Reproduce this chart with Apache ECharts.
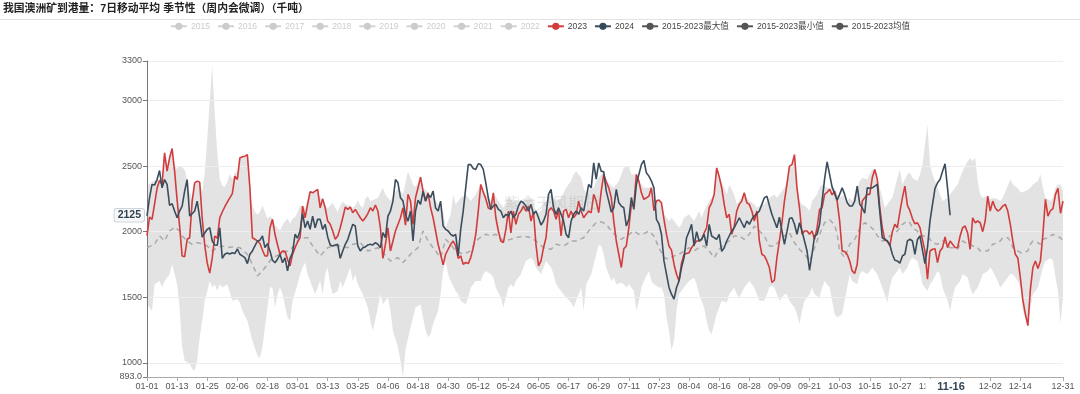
<!DOCTYPE html>
<html><head><meta charset="utf-8">
<script src="https://cdn.jsdelivr.net/npm/echarts@6/dist/echarts.min.js"></script>
<style>html,body{margin:0;padding:0;background:#fff}#c{width:1080px;height:394px}</style>
</head><body><div id="c"></div>
<script>
// ---- categories (leap-year calendar MM-DD) ----
const monthDays = [31,29,31,30,31,30,31,31,30,31,30,31];
const categories = [];
monthDays.forEach((n, m) => { for (let d = 1; d <= n; d++) categories.push(String(m+1).padStart(2,'0') + '-' + String(d).padStart(2,'0')); });

const hiddenYears = ['2015','2016','2017','2018','2019','2020','2021','2022'];
const titleText = '我国澳洲矿到港量：7日移动平均 季节性（周内会微调）（千吨）';
const pointerDate = '11-16';

// ---- series values: [day index, value] ----
const s2023 = [[0,1970],[1,2110],[2,2094],[3,2208],[4,2330],[5,2390],[6,2360],[7,2600],[8,2461],[9,2562],[10,2633],[11,2461],[12,2240],[13,2040],[14,1815],[15,1810],[16,1942],[17,1954],[18,2233],[19,2372],[20,2385],[21,2377],[22,2100],[23,1900],[24,1760],[25,1684],[26,1800],[27,1967],[28,1950],[29,2106],[30,2150],[31,2190],[32,2225],[33,2258],[34,2290],[35,2423],[36,2398],[37,2562],[38,2570],[39,2575],[40,2587],[41,2334],[42,1954],[43,1942],[44,1930],[45,1910],[46,1860],[47,1815],[48,1815],[49,2030],[50,2094],[51,1980],[52,1900],[53,1828],[54,1853],[55,1850],[56,1790],[57,1739],[58,1828],[59,1878],[60,1920],[61,1954],[62,2195],[63,2106],[64,2208],[65,2305],[66,2296],[67,2309],[68,2322],[69,2182],[70,2250],[71,2182],[72,2081],[73,2056],[74,2005],[75,1942],[76,1967],[77,2030],[78,2106],[79,2187],[80,2170],[81,2187],[82,2144],[83,2170],[84,2137],[85,2106],[86,2081],[87,2106],[88,2137],[89,2182],[90,2157],[91,2203],[92,2157],[93,2030],[94,1797],[95,1904],[96,2030],[97,1853],[98,1929],[99,2005],[101,2106],[102,2182],[103,2050],[104,2284],[105,2233],[106,2056],[107,2258],[108,2334],[109,2415],[110,2309],[111,2233],[112,2296],[113,2182],[114,2106],[115,2005],[116,1904],[117,1828],[118,1747],[119,1828],[120,1866],[121,1904],[122,1929],[123,1891],[124,1797],[125,1815],[126,1752],[127,1765],[128,1757],[129,1802],[130,1878],[131,1980],[132,2157],[133,2360],[134,2300],[135,2250],[136,2180],[137,2170],[138,2296],[139,2106],[140,2005],[141,1929],[142,1916],[143,2018],[144,2157],[145,1990],[146,2157],[147,2056],[148,2132],[149,2157],[150,2195],[151,2157],[152,2195],[153,2081],[154,2150],[155,1900],[156,1739],[157,1777],[158,1878],[159,1954],[160,2157],[161,2182],[162,2157],[163,2094],[164,2162],[165,1967],[166,2157],[167,2170],[168,2106],[169,2157],[170,2106],[171,2132],[172,2233],[173,2157],[174,2106],[175,2132],[176,2157],[177,2144],[178,2284],[179,2233],[180,2144],[181,2309],[182,2436],[183,2380],[184,2334],[185,2258],[186,2080],[187,1929],[188,1828],[189,1727],[190,1870],[191,1891],[192,2030],[193,2208],[194,2200],[195,2436],[196,2385],[197,2296],[198,2246],[199,2258],[200,2271],[201,2334],[202,2160],[203,2233],[204,2241],[205,2220],[206,2094],[207,1980],[208,1891],[209,1860],[210,1752],[211,1676],[212,1625],[213,1760],[214,1828],[215,1833],[216,1840],[217,1878],[218,1904],[219,1929],[220,1929],[221,1942],[222,1990],[223,2030],[224,2182],[225,2220],[226,2284],[227,2486],[228,2420],[229,2334],[230,2208],[231,2106],[232,2132],[233,1980],[234,2040],[235,2157],[236,2208],[237,2233],[238,2296],[239,2220],[240,2208],[241,2157],[242,2081],[243,2157],[244,1929],[245,1828],[246,1815],[247,1777],[248,1727],[249,1613],[250,1630],[251,1802],[252,1929],[253,2068],[254,2233],[255,2360],[256,2499],[257,2511],[258,2587],[259,2334],[260,2182],[261,1980],[262,2005],[263,2005],[264,1980],[265,2005],[266,1942],[267,2030],[268,2170],[269,2182],[270,2284],[271,2300],[272,2322],[273,2280],[274,2309],[275,2233],[276,2081],[277,1853],[278,1848],[279,1828],[280,1777],[281,1701],[282,1681],[283,1752],[284,2000],[285,2233],[286,2258],[287,2284],[288,2284],[289,2410],[290,2473],[291,2400],[292,2182],[293,2030],[294,1935],[295,1929],[296,1891],[297,2000],[298,2056],[299,2030],[300,2150],[301,2258],[302,2347],[303,2200],[304,2160],[305,2100],[306,2060],[307,2068],[308,2030],[309,1940],[310,1850],[311,1638],[312,1853],[313,1866],[314,1870],[315,1765],[316,1853],[317,1878],[318,1960],[319,1878],[320,1929],[321,1904],[322,1880],[323,1878],[324,1967],[325,2030],[326,2043],[327,1990],[328,1866],[329,2106],[330,2068],[331,2081],[332,2068],[333,2000],[334,2081],[335,2271],[336,2157],[337,2233],[338,2182],[339,2157],[340,2170],[341,2195],[342,2208],[343,2157],[344,2056],[345,1929],[346,1828],[347,1800],[348,1650],[349,1480],[350,1372],[351,1284],[352,1560],[353,1727],[354,1777],[355,1720],[356,1777],[357,1980],[358,2246],[359,2119],[360,2160],[361,2175],[362,2284],[363,2330],[364,2140],[365,2233]];

const s2024 = [[0,2120],[1,2258],[2,2360],[3,2355],[4,2397],[5,2466],[6,2334],[7,2397],[8,2360],[9,2200],[10,2213],[11,2157],[12,2106],[13,2157],[14,2195],[15,2309],[16,2397],[17,2119],[18,2137],[19,2157],[20,2233],[21,2106],[22,1959],[23,1990],[24,2018],[25,2030],[26,1929],[27,1899],[28,1896],[29,2030],[30,1797],[31,1828],[32,1838],[33,1830],[34,1840],[35,1833],[36,1868],[37,1828],[38,1815],[39,1802],[40,1757],[41,1828],[42,1853],[43,1891],[44,1929],[45,1935],[46,1967],[47,1878],[48,1909],[49,1853],[50,1782],[51,1764],[52,1790],[53,1828],[54,1764],[55,1800],[56,1701],[57,1797],[58,1840],[59,1980],[60,1950],[61,2005],[62,2137],[63,2030],[64,2081],[65,2018],[66,2119],[67,2030],[68,2094],[69,2094],[70,2018],[71,2056],[72,1960],[73,1899],[74,1891],[75,1899],[76,1904],[77,1797],[78,1853],[79,1904],[80,1940],[81,2000],[82,2056],[83,2043],[84,1891],[85,1853],[86,1878],[87,1884],[88,1899],[89,1904],[90,1899],[91,1916],[92,1904],[93,1878],[94,1992],[95,1954],[96,2119],[97,2157],[98,2233],[99,2397],[100,2372],[101,2258],[102,2233],[103,2132],[104,2080],[105,2157],[106,1929],[107,2157],[108,2240],[109,2208],[110,2309],[111,2233],[112,2284],[113,2260],[114,2309],[115,2180],[116,2157],[117,2233],[118,2043],[119,2018],[120,2005],[121,1980],[122,1967],[123,1980],[124,1815],[125,2018],[126,2157],[127,2334],[128,2511],[129,2511],[130,2481],[131,2474],[132,2517],[133,2511],[134,2474],[135,2372],[136,2258],[137,2170],[138,2195],[139,2208],[140,2170],[141,2157],[142,2106],[143,2132],[144,2119],[145,2157],[146,2106],[147,2132],[148,2195],[149,2233],[150,2220],[151,2195],[152,2157],[153,2208],[154,2132],[155,2157],[156,2106],[157,2050],[158,2081],[159,2132],[160,2284],[161,2322],[162,2182],[163,2132],[164,2182],[165,2132],[166,2081],[167,1980],[168,1954],[169,2081],[170,2132],[171,2157],[172,2132],[173,2182],[174,2157],[175,2258],[176,2360],[177,2334],[178,2524],[179,2400],[180,2524],[181,2461],[182,2456],[183,2309],[184,2233],[185,2150],[186,2182],[187,2322],[188,2220],[189,2195],[190,2182],[191,2043],[192,2094],[193,2260],[194,2170],[195,2360],[196,2436],[197,2511],[198,2542],[199,2448],[200,2423],[201,2385],[202,2334],[203,2094],[204,2060],[205,1980],[206,1777],[207,1676],[208,1575],[209,1524],[210,1486],[211,1575],[212,1625],[213,1727],[214,1802],[215,1954],[216,2000],[217,2056],[218,1891],[219,2000],[220,1929],[221,1942],[222,1980],[223,1891],[224,2056],[225,1967],[226,1954],[227,1942],[228,1980],[229,1850],[230,1878],[231,1929],[232,1967],[233,2005],[234,2030],[235,2068],[236,2106],[237,2068],[238,2030],[239,2081],[240,2056],[241,2094],[242,2119],[243,2137],[244,2157],[245,2208],[246,2258],[247,2271],[248,2200],[249,2132],[250,2081],[251,2030],[252,2110],[253,2005],[254,1904],[255,2000],[256,2100],[257,2106],[258,2056],[259,1980],[260,2068],[261,2005],[262,1929],[263,1853],[264,1706],[265,1828],[266,1967],[267,1980],[268,2056],[269,2233],[270,2400],[271,2532],[272,2436],[273,2340],[274,2290],[275,2240],[276,2284],[277,2334],[278,2284],[279,2220],[280,2195],[281,2195],[282,2233],[283,2347],[284,2210],[285,2182],[286,2140],[287,2334],[288,2330],[289,2334],[290,2347],[291,2360],[292,2150],[293,1954],[294,1942],[295,1929],[296,1900],[297,1828],[298,1782],[299,1777],[300,1760],[301,1815],[302,1828],[303,1930],[304,1942],[305,1929],[306,1828],[307,1940],[308,1967],[309,1860],[310,1757],[311,1878],[312,2081],[313,2208],[314,2330],[315,2372],[316,2398],[317,2461],[318,2517],[319,2330],[320,2125]];

const sMax = [[0,2350],[2,2380],[4,2400],[5,2400],[6,2380],[7,2600],[8,2480],[9,2562],[10,2633],[11,2500],[12,2480],[13,2500],[14,2490],[15,2470],[16,2400],[17,2300],[18,2250],[19,2372],[20,2390],[21,2380],[22,2300],[23,2450],[24,2700],[25,3000],[26,3260],[27,2900],[28,2600],[29,2400],[30,2350],[31,2340],[32,2380],[33,2440],[34,2400],[35,2450],[36,2450],[37,2562],[38,2570],[39,2575],[40,2587],[41,2350],[42,2200],[43,2150],[44,2130],[45,2150],[46,2200],[47,2150],[48,2100],[49,2120],[50,2100],[51,2050],[52,2030],[53,2010],[54,2050],[55,2080],[56,2100],[57,2060],[58,2100],[59,2110],[60,2150],[61,2200],[62,2200],[63,2180],[64,2250],[65,2310],[66,2300],[67,2310],[68,2322],[69,2250],[70,2260],[71,2200],[72,2180],[73,2200],[74,2220],[75,2180],[76,2150],[77,2200],[78,2230],[79,2210],[80,2200],[81,2200],[82,2180],[83,2200],[84,2240],[85,2200],[86,2180],[87,2250],[88,2270],[89,2233],[92,2258],[94,2334],[95,2284],[97,2233],[100,2334],[102,2284],[104,2461],[106,2360],[107,2340],[109,2415],[110,2334],[112,2300],[114,2258],[116,2208],[118,2157],[119,2030],[121,2132],[122,2284],[123,2208],[125,2258],[127,2284],[129,2233],[131,2284],[133,2360],[134,2334],[135,2284],[137,2233],[138,2300],[140,2233],[142,2182],[144,2258],[146,2233],[148,2233],[150,2233],[152,2258],[154,2233],[155,2132],[157,2157],[158,2208],[159,2233],[161,2284],[163,2233],[165,2258],[167,2334],[169,2385],[170,2436],[171,2461],[173,2410],[174,2334],[175,2284],[177,2334],[178,2334],[179,2385],[181,2436],[182,2461],[183,2385],[186,2334],[188,2385],[190,2486],[192,2499],[193,2436],[195,2436],[196,2385],[198,2334],[200,2334],[201,2340],[202,2233],[203,2246],[205,2220],[206,2132],[208,2081],[209,2106],[210,2081],[212,2030],[213,2056],[214,2106],[216,2132],[217,2106],[218,2081],[220,2157],[221,2106],[222,2157],[224,2233],[225,2258],[226,2290],[227,2486],[228,2420],[230,2334],[231,2284],[232,2360],[234,2284],[235,2208],[236,2233],[238,2296],[239,2258],[240,2233],[242,2208],[243,2182],[244,2195],[246,2208],[247,2233],[248,2258],[250,2284],[251,2258],[252,2284],[254,2334],[255,2400],[256,2499],[257,2511],[258,2587],[259,2334],[260,2233],[261,2208],[263,2182],[264,2157],[265,2233],[267,2284],[268,2334],[269,2360],[271,2334],[272,2330],[273,2334],[274,2334],[275,2284],[276,2258],[278,2284],[279,2233],[280,2258],[281,2233],[283,2334],[284,2385],[285,2410],[287,2398],[288,2436],[289,2473],[290,2480],[291,2410],[293,2258],[294,2182],[295,2208],[297,2258],[298,2334],[299,2410],[300,2473],[301,2360],[302,2400],[303,2436],[304,2448],[305,2410],[307,2385],[308,2436],[309,2511],[310,2663],[311,2815],[312,2511],[313,2436],[314,2385],[315,2334],[316,2284],[317,2233],[319,2258],[320,2284],[321,2309],[323,2360],[324,2410],[325,2461],[327,2537],[328,2562],[329,2537],[330,2562],[331,2385],[332,2284],[333,2258],[335,2271],[336,2246],[337,2258],[339,2246],[340,2233],[341,2258],[343,2350],[344,2400],[345,2360],[347,2330],[348,2300],[349,2300],[351,2320],[352,2334],[353,2360],[355,2385],[356,2436],[357,2334],[358,2258],[360,2233],[361,2258],[362,2334],[363,2360],[364,2360],[365,2309]];

const sMin = [[0,1448],[1,1423],[2,1397],[3,1600],[5,1625],[6,1575],[7,1625],[9,1676],[10,1752],[11,1676],[12,1600],[13,1423],[14,1119],[15,1018],[17,993],[18,955],[19,942],[20,1018],[21,1195],[22,1321],[23,1473],[24,1549],[25,1625],[26,1575],[27,1600],[28,1549],[29,1600],[30,1575],[32,1600],[33,1537],[34,1473],[36,1486],[37,1461],[38,1397],[40,1321],[41,1245],[42,1170],[44,1056],[45,1038],[46,1119],[47,1271],[48,1423],[49,1575],[50,1575],[51,1423],[52,1524],[53,1575],[54,1524],[56,1347],[57,1321],[58,1473],[60,1600],[61,1676],[62,1727],[63,1765],[64,1676],[66,1575],[67,1524],[68,1575],[69,1625],[70,1524],[71,1676],[72,1727],[73,1600],[74,1524],[76,1549],[77,1625],[78,1575],[80,1676],[81,1727],[82,1625],[83,1676],[84,1600],[86,1524],[87,1473],[88,1423],[89,1321],[90,1245],[92,1423],[93,1524],[94,1448],[96,1499],[97,1397],[98,1245],[100,1119],[101,1018],[102,893],[103,1100],[105,1271],[106,1347],[107,1423],[109,1448],[110,1347],[111,1245],[112,1195],[113,1220],[114,1296],[116,1397],[117,1524],[118,1700],[119,1777],[120,1676],[121,1625],[123,1549],[124,1524],[125,1473],[127,1448],[128,1499],[129,1575],[130,1600],[131,1625],[133,1625],[134,1676],[135,1701],[137,1676],[138,1651],[139,1575],[141,1499],[142,1423],[143,1499],[144,1575],[145,1600],[146,1575],[147,1625],[149,1676],[150,1727],[151,1777],[153,1802],[154,1777],[155,1727],[157,1676],[158,1727],[159,1777],[161,1727],[162,1676],[163,1600],[165,1549],[166,1524],[167,1499],[169,1461],[170,1423],[171,1473],[173,1575],[174,1397],[175,1600],[177,1676],[178,1752],[179,1828],[180,1900],[181,1890],[182,1828],[183,1727],[185,1625],[186,1651],[187,1600],[189,1613],[190,1600],[191,1575],[192,1600],[194,1549],[195,1397],[196,1473],[197,1575],[198,1625],[200,1701],[201,1625],[202,1600],[204,1575],[205,1575],[206,1524],[207,1347],[208,1245],[209,1094],[210,1170],[211,1400],[212,1524],[214,1575],[215,1600],[216,1625],[218,1651],[219,1600],[220,1524],[222,1423],[223,1321],[224,1245],[225,1220],[226,1296],[227,1372],[228,1423],[229,1473],[231,1461],[232,1524],[234,1575],[235,1524],[236,1499],[238,1575],[239,1600],[240,1625],[242,1575],[243,1524],[244,1473],[246,1473],[247,1524],[248,1575],[249,1590],[250,1575],[251,1524],[252,1473],[254,1524],[255,1524],[256,1473],[258,1423],[259,1372],[260,1296],[261,1397],[262,1473],[264,1524],[265,1575],[266,1524],[268,1499],[269,1575],[270,1625],[272,1575],[273,1473],[274,1372],[275,1347],[276,1360],[277,1372],[279,1575],[280,1676],[281,1625],[283,1600],[284,1676],[285,1701],[287,1676],[288,1701],[289,1727],[291,1676],[292,1625],[293,1575],[295,1461],[296,1575],[297,1651],[299,1701],[300,1727],[301,1676],[303,1727],[304,1777],[305,1802],[307,1777],[308,1701],[309,1600],[311,1549],[312,1600],[313,1625],[315,1701],[316,1676],[317,1575],[319,1473],[320,1397],[321,1499],[322,1575],[323,1600],[324,1625],[325,1676],[327,1651],[328,1575],[329,1524],[331,1575],[332,1625],[333,1676],[335,1701],[336,1727],[337,1701],[339,1625],[340,1575],[341,1600],[343,1651],[344,1676],[345,1676],[347,1625],[348,1575],[349,1400],[350,1340],[351,1284],[352,1423],[353,1524],[355,1575],[356,1650],[357,1727],[358,1777],[360,1800],[361,1780],[362,1650],[363,1550],[364,1300],[365,1500]];

const sMean = [[0,1878],[3,1904],[5,1967],[7,1929],[9,2005],[11,2035],[13,2005],[14,1967],[16,1929],[18,1904],[20,1916],[22,1909],[24,1891],[26,1853],[28,1878],[30,1891],[32,1878],[34,1884],[37,1878],[40,1828],[42,1752],[44,1663],[46,1701],[48,1752],[50,1802],[53,1828],[56,1853],[58,1878],[61,1954],[64,1954],[66,1891],[69,1815],[72,1878],[74,1891],[77,1891],[80,1878],[82,1904],[85,1916],[88,1853],[92,1878],[94,1840],[97,1777],[100,1802],[102,1765],[105,1828],[108,1878],[110,2005],[112,1929],[114,1878],[117,1802],[119,1942],[121,1904],[123,1853],[126,1828],[129,1853],[131,1929],[133,1959],[135,1980],[137,1967],[139,1980],[142,1929],[145,1942],[147,1954],[150,1967],[153,1954],[155,1929],[158,1878],[161,1866],[163,1904],[166,1891],[169,1929],[171,1929],[174,1954],[177,2030],[179,2068],[181,2075],[183,2056],[185,2005],[187,1967],[189,1942],[191,1967],[194,2005],[196,1980],[198,1985],[200,2005],[202,1967],[204,1878],[206,1802],[208,1790],[210,1815],[212,1828],[214,1853],[216,1878],[218,1853],[220,1878],[222,1891],[224,1853],[226,1802],[228,1866],[230,1904],[232,1929],[234,1967],[236,1967],[238,1942],[240,1980],[242,2043],[244,2005],[246,1967],[248,1891],[250,1891],[252,1929],[254,1967],[256,1992],[258,1916],[260,1866],[262,1828],[264,1777],[266,1878],[268,1980],[270,2068],[272,2090],[274,2050],[275,1980],[276,1853],[278,1802],[279,1853],[280,1904],[282,1942],[283,1980],[284,2030],[286,2068],[287,2056],[288,2043],[290,2005],[291,1967],[292,1954],[293,1929],[295,1942],[296,1967],[297,1980],[299,2005],[300,2030],[301,2056],[303,2081],[304,2068],[305,2030],[307,2005],[308,1967],[309,1967],[311,1967],[312,1942],[313,1916],[315,1904],[316,1916],[317,1929],[319,1904],[320,1878],[321,1878],[323,1866],[324,1904],[325,1929],[327,1904],[328,1904],[329,1891],[331,1878],[332,1853],[333,1853],[335,1853],[336,1878],[337,1904],[339,1916],[340,1929],[341,1954],[343,1954],[344,1929],[345,1878],[347,1853],[348,1840],[349,1840],[351,1853],[352,1904],[353,1929],[355,1916],[356,1904],[357,1942],[359,1954],[360,1967],[361,1980],[362,1967],[364,1954],[365,1929]];

// ---- chart ----
const FONT = '"Liberation Sans", "Noto Sans CJK SC", sans-serif';
const chart = echarts.init(document.getElementById('c'));
const lastIdx = categories.length - 1;
const tickShown = (i) => (i % 12 === 0 && i !== 360) || i === lastIdx;
const pointerIndex = categories.indexOf(pointerDate);
const pointerValue = s2024[s2024.length - 1][1];

const selected = {};
hiddenYears.forEach(y => selected[y] = false);
const bandIcon = { itemStyle: { color: '#555', opacity: 1 }, lineStyle: { color: '#555', opacity: 1, width: 2, type: 'solid' } };
const legendData = hiddenYears.map(n => ({ name: n }))
  .concat([{ name: '2023' }, { name: '2024' },
    Object.assign({ name: '2015-2023最大值' }, bandIcon),
    Object.assign({ name: '2015-2023最小值' }, bandIcon),
    Object.assign({ name: '2015-2023均值' }, bandIcon)]);

const series = hiddenYears.map(n => ({ name: n, type: 'line', data: [], symbol: 'circle', showSymbol: false, itemStyle: { color: '#999' } }));
series.push(
  { name: '2015-2023最大值', type: 'line', data: sMax, symbol: 'circle', showSymbol: false, z: 1, silent: true,
    itemStyle: { color: '#555' }, lineStyle: { width: 0, opacity: 0 }, areaStyle: { color: '#e3e3e3', opacity: 1, origin: 'start' } },
  { name: '2015-2023最小值', type: 'line', data: sMin, symbol: 'circle', showSymbol: false, z: 1, silent: true,
    itemStyle: { color: '#555' }, lineStyle: { width: 0, opacity: 0 }, areaStyle: { color: '#ffffff', opacity: 1, origin: 'start' } },
  { name: '2015-2023均值', type: 'line', data: sMean, symbol: 'circle', showSymbol: false, z: 3,
    itemStyle: { color: '#555' }, lineStyle: { color: '#aaaaaa', width: 1.5, type: [5, 4] } },
  { name: '2023', type: 'line', data: s2023, symbol: 'circle', showSymbol: false, z: 3,
    itemStyle: { color: '#d23c3c' }, lineStyle: { color: '#d23c3c', width: 1.6 } },
  { name: '2024', type: 'line', data: s2024, symbol: 'circle', showSymbol: false, z: 4,
    itemStyle: { color: '#34495a' }, lineStyle: { color: '#3b4d5c', width: 1.6 } }
);

chart.setOption({
  animation: false,
  textStyle: { fontFamily: FONT },
  title: { text: titleText, left: 3, top: 4, padding: 0, textStyle: { fontSize: 10.8, fontWeight: 'bold', color: '#222', fontFamily: FONT } },
  legend: { top: 22, left: 'center', padding: 0, itemWidth: 16, itemHeight: 9, itemGap: 7, inactiveColor: '#ccc',
    textStyle: { fontSize: 8.6, color: '#444', fontFamily: FONT, padding: [0, 0, 0, -1] }, selected: selected, data: legendData },
  grid: { left: 147, right: 17, top: 61, bottom: 17 },
  xAxis: {
    type: 'category', data: categories, boundaryGap: false, z: 2,
    axisLine: { lineStyle: { color: '#aaa' } },
    axisTick: { interval: (i) => tickShown(i), length: 4, lineStyle: { color: '#aaa' } },
    axisLabel: { interval: (i) => tickShown(i), fontSize: 9, color: '#555', margin: 5, fontFamily: FONT },
    splitLine: { show: false },
    axisPointer: { show: true, type: 'none', status: 'show', value: pointerIndex, triggerTooltip: false,
      label: { show: true, fontSize: 11, fontWeight: 'bold', color: '#2f4554', backgroundColor: '#fff', padding: [2, 10, 2, 12], margin: 2, fontFamily: FONT } }
  },
  yAxis: {
    type: 'value', min: 893, max: 3300, splitNumber: 5, z: 2,
    axisLine: { show: true, lineStyle: { color: '#777' } },
    axisTick: { show: true, length: 4, lineStyle: { color: '#777' } },
    axisLabel: { fontSize: 9, color: '#555', margin: 5, fontFamily: FONT, formatter: (v) => v === 893 ? '893.0' : String(v) },
    splitLine: { lineStyle: { color: '#eeeeee' } },
    axisPointer: { show: true, type: 'none', status: 'show', value: pointerValue, triggerTooltip: false,
      label: { show: true, fontSize: 10.5, fontWeight: 'bold', color: '#2f4554', backgroundColor: '#f7f8fa', borderColor: '#cfd4da', borderWidth: 1, borderRadius: 2, padding: [1, 3], margin: 3, fontFamily: FONT,
        formatter: (p) => String(Math.round(p.value)) } }
  },
  graphic: [
    { type: 'line', silent: true, shape: { x1: 0, y1: 19.5, x2: 1080, y2: 19.5 }, style: { stroke: '#e3e3e3', lineWidth: 1 } },
    { type: 'text', silent: true, z: 10, style: { text: '紫金天风期货', x: 552, y: 205, textAlign: 'center', textVerticalAlign: 'middle', fontSize: 16, fill: 'rgba(140,140,140,0.22)', fontFamily: FONT } }
  ],
  series: series
});
</script>
</body></html>
